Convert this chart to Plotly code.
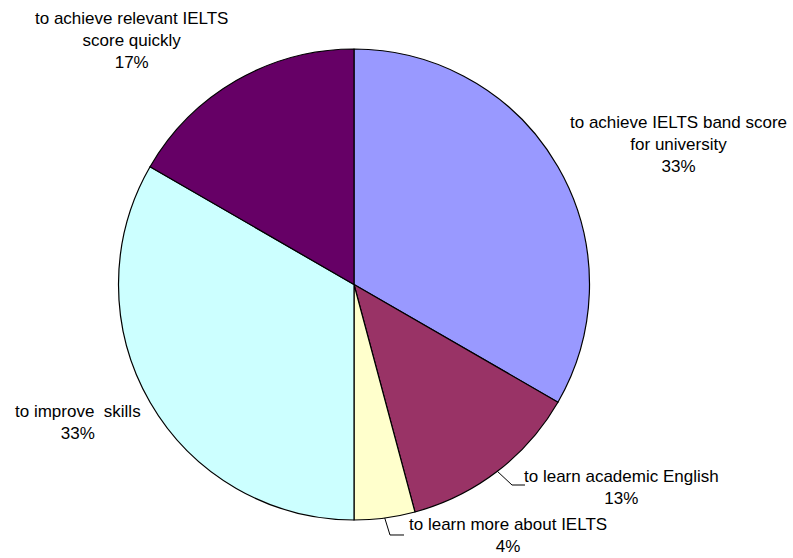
import math
import plotly.graph_objects as go

# ---- data ----
categories = [
    "to achieve IELTS band score for university",
    "to learn academic English",
    "to learn more about IELTS",
    "to improve  skills",
    "to achieve relevant IELTS score quickly",
]
label_text = [
    "to achieve IELTS band score<br>for university",
    "to learn academic English",
    "to learn more about IELTS",
    "to improve  skills",
    "to achieve relevant IELTS<br>score quickly",
]
values = [8, 3, 1, 8, 4]
colors = ["#9999FF", "#993366", "#FFFFCC", "#CCFFFF", "#660066"]

# ---- layout (pixels) ----
W, H = 793, 558
CX, CY, R = 354, 284.5, 235.5
FONT = dict(family="Liberation Sans, Arial, sans-serif", size=17, color="#000000")

# label centres (pixels from top-left)
label_pos = [(678, 144), (621, 487), (508, 535), (78, 422), (131, 41)]
# leader lines: elbow and end point for the small slices
leaders = {1: [(512, 485), (525, 485)], 2: [(390, 535), (404, 535)]}


def px(x):
    return x / W


def py(y):
    return 1 - y / H


fig = go.Figure(go.Pie(
    labels=categories,
    values=values,
    sort=False,
    direction="clockwise",
    rotation=0,
    marker=dict(colors=colors, line=dict(color="#000000", width=1.2)),
    textinfo="none",
    hoverinfo="label+percent",
    domain=dict(x=[px(CX - R), px(CX + R)], y=[py(CY + R), py(CY - R)]),
    showlegend=False,
))

total = sum(values)
annotations = []
shapes = []
cum = 0
for i, v in enumerate(values):
    pct = math.floor(v / total * 100 + 0.5)
    x, y = label_pos[i]
    annotations.append(dict(
        x=px(x), y=py(y), xref="paper", yref="paper",
        text=f"{label_text[i]}<br>{pct}%", showarrow=False,
        align="center", xanchor="center", yanchor="middle", font=FONT,
    ))
    mid = (cum + v / 2) / total * 2 * math.pi
    cum += v
    if i in leaders:
        sx = CX + R * math.sin(mid)
        sy = CY - R * math.cos(mid)
        pts = [(sx, sy)] + leaders[i]
        path = "M " + " L ".join(f"{px(a):.5f},{py(b):.5f}" for a, b in pts)
        shapes.append(dict(type="path", xref="paper", yref="paper", path=path,
                           line=dict(color="#000000", width=1)))

fig.update_layout(
    width=W, height=H,
    margin=dict(l=0, r=0, t=0, b=0),
    paper_bgcolor="#FFFFFF",
    plot_bgcolor="#FFFFFF",
    annotations=annotations,
    shapes=shapes,
    font=FONT,
)

fig.write_html(
    "out.html",
    config={"displayModeBar": False},
    post_script="document.body.style.margin='0';document.body.style.overflow='hidden';",
)
